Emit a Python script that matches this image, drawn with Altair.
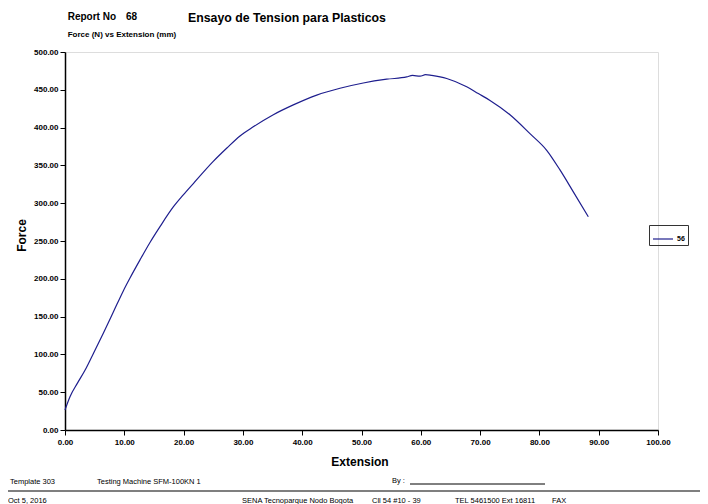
import altair as alt
import pandas as pd

# Curve (Extension mm, Force N)
extension = [0.0, 0.84, 2.1, 3.37, 4.77, 6.46, 8.15, 9.83, 10.96, 12.65, 14.33, 16.02,
             18.26, 19.95, 21.64, 24.96, 27.3, 29.51, 31.75, 35.13, 38.5, 42.45, 46.37,
             50.3, 54.25, 57.62, 58.6, 59.87, 60.8, 61.84, 64.37, 67.74, 69.70,
             71.67, 75.04, 78.41, 81.23, 83.47, 85.72, 88.25]
force = [26.5, 44, 62, 79, 101, 128, 156, 184, 201, 225, 248, 269,
         295, 311, 326, 355, 373, 389, 401, 417, 430, 443, 452,
         459, 464, 467, 469, 468, 470, 469, 465, 454, 445,
         436, 417, 392, 370, 344, 315, 282]
series = ["56"] * len(extension)

x_ticks = [0, 10, 20, 30, 40, 50, 60, 70, 80, 90, 100]
y_ticks = [0, 50, 100, 150, 200, 250, 300, 350, 400, 450, 500]

df = pd.DataFrame({"Extension": extension, "Force": force, "series": series})

FONT = "Liberation Sans"
LINE = "#1e1e8e"

W, H = 593, 378

curve = alt.Chart(df).mark_line(strokeWidth=1.2, interpolate="monotone").encode(
    x=alt.X("Extension:Q",
            scale=alt.Scale(domain=[0, 100], nice=False, zero=True),
            axis=alt.Axis(values=x_ticks, format=".2f", title=None, grid=False,
                          labelFlush=False,
                          labelFont=FONT, labelFontSize=8, labelFontWeight="bold",
                          labelColor="black", labelPadding=3,
                          domainColor="black", domainWidth=1.5,
                          tickColor="black", tickSize=5, tickWidth=1)),
    y=alt.Y("Force:Q",
            scale=alt.Scale(domain=[0, 500], nice=False, zero=True),
            axis=alt.Axis(values=y_ticks, format=".2f", title=None, grid=False,
                          labelFlush=False,
                          labelFont=FONT, labelFontSize=8, labelFontWeight="bold",
                          labelColor="black", labelPadding=2,
                          domainColor="black", domainWidth=1.5,
                          tickColor="black", tickSize=5, tickWidth=1)),
    color=alt.Color("series:N",
                    scale=alt.Scale(domain=["56"], range=[LINE]),
                    legend=alt.Legend(title=None, orient="none", legendX=584, legendY=173,
                                      strokeColor="#333333", padding=3,
                                      symbolType="stroke", symbolSize=400,
                                      symbolStrokeWidth=1.2,
                                      labelFont=FONT, labelFontSize=7,
                                      labelFontWeight="bold", labelColor="black",
                                      labelOffset=3)),
)


def txt(s, x, y, size=7.5, weight="normal", align="left", angle=0, color="black"):
    kw = dict(font=FONT, fontSize=size, fontWeight=weight, align=align,
              baseline="middle", color=color)
    if angle:
        kw["angle"] = angle
    return alt.Chart(alt.Data(values=[{}])).mark_text(**kw).encode(
        x=alt.value(x), y=alt.value(y), text=alt.value(s))


def hline(x1, x2, y, color="black", width=1.0):
    return alt.Chart(alt.Data(values=[{}])).mark_rule(color=color, strokeWidth=width).encode(
        x=alt.value(x1), x2=alt.value(x2), y=alt.value(y))


layers = [
    curve,
    txt("Report No", 2.7, -35.3, size=10, weight="bold"),
    txt("68", 61, -35.3, size=10, weight="bold"),
    txt("Ensayo de Tension para Plasticos", 123, -33.7, size=12.3, weight="bold"),
    txt("Force (N) vs Extension (mm)", 2.7, -17, size=8, weight="bold"),
    txt("Force", -43.3, 183.5, size=12, weight="bold", align="center", angle=270),
    txt("Extension", 295, 409.7, size=12, weight="bold", align="center"),
    txt("Template 303", -55, 429.7),
    txt("Testing Machine SFM-100KN 1", 32, 429.7),
    txt("By :", 327, 428.7),
    hline(345, 480, 432, width=1),
    hline(-57, 635, 439, color="#555555", width=1.5),
    txt("Oct 5, 2016", -57, 448.7),
    txt("SENA Tecnoparque Nodo Bogota", 177, 448.7),
    txt("Cll 54 #10 - 39", 307, 448.7),
    txt("TEL 5461500 Ext 16811", 390, 448.7),
    txt("FAX", 487, 448.7),
]

chart = alt.layer(*layers).properties(
    width=W, height=H,
    autosize=alt.AutoSizeParams(type="none"),
    padding={"left": 57, "top": 44, "right": 42, "bottom": 74},
).configure_view(stroke=None).configure(background="white")

chart.save("out.html", embed_options={"renderer": "svg", "actions": False})
